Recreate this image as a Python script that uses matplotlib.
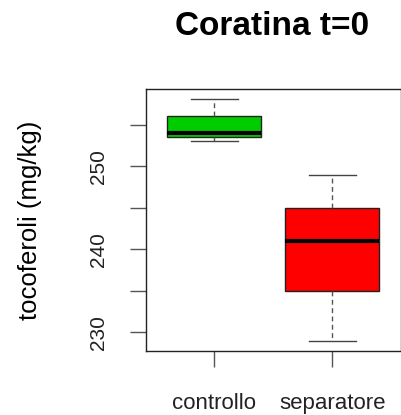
import matplotlib
matplotlib.use("Agg")
import matplotlib.pyplot as plt

# tocoferoli, Coratina t=0
gruppi = ["controllo", "separatore"]
whisker_low = [253.0, 229.0]
q1 = [253.5, 235.0]
mediana = [254.0, 241.0]
q3 = [256.1, 245.0]
whisker_high = [258.1, 249.0]
colori = ["#00CD00", "#FF0000"]

plt.rcParams["font.family"] = ["Liberation Sans", "DejaVu Sans"]

fig = plt.figure(figsize=(4.02, 4.15), dpi=100)
ax = fig.add_axes([0.3632, 0.155, 0.6343, 0.6296])

stats = []
for i, g in enumerate(gruppi):
    stats.append(dict(label=g, whislo=whisker_low[i], q1=q1[i], med=mediana[i],
                      q3=q3[i], whishi=whisker_high[i], fliers=[]))

bp = ax.bxp(stats, positions=[1, 2], widths=0.8, patch_artist=True, showfliers=False,
            boxprops=dict(edgecolor="#222222", linewidth=1.0),
            medianprops=dict(color="black", linewidth=3.0, solid_capstyle="butt"),
            whiskerprops=dict(color="#555555", linewidth=1.0, linestyle=(0, (3.5, 2.5))),
            capprops=dict(color="#444444", linewidth=1.0),
            capwidths=0.4)
for patch, c in zip(bp["boxes"], colori):
    patch.set_facecolor(c)

ax.set_xlim(0.42, 2.585)
ax.set_ylim(227.8, 259.25)
ax.set_yticks([230, 235, 240, 245, 250, 255])
ax.set_yticklabels(["230", "", "240", "", "250", ""], rotation=90, va="center")
ax.set_xticks([1, 2])
ax.set_xticklabels(gruppi)

for s in ax.spines.values():
    s.set_linewidth(1.0)
    s.set_color("#222222")
ax.tick_params(axis="both", direction="out", length=11.5, width=1.0, color="#555555",
               labelcolor="#222222")
ax.tick_params(axis="y", pad=16, labelsize=15)
ax.tick_params(axis="x", pad=19, labelsize=16)

ax.set_ylabel("tocoferoli (mg/kg)", fontsize=18.5, labelpad=34)
fig.text(0.677, 0.935, "Coratina t=0", ha="center", va="center",
         fontsize=24, fontweight="bold")

fig.savefig("out.png", dpi=100)
